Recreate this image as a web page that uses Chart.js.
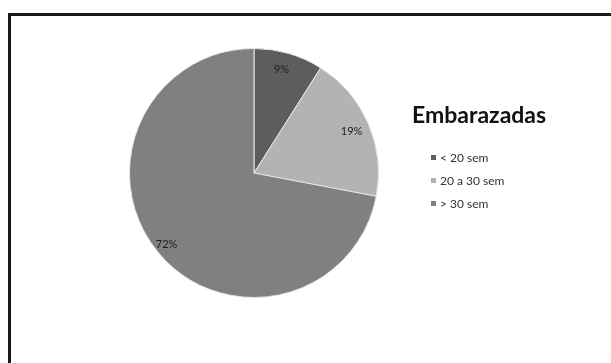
<!DOCTYPE html>
<html>
<head>
<meta charset="utf-8">
<script src="https://cdn.jsdelivr.net/npm/chart.js@4/dist/chart.umd.min.js"></script>
<style>
html,body{margin:0;padding:0;background:#fff;width:611px;height:363px;overflow:hidden;}
#frame{position:absolute;left:8px;top:13px;width:640px;height:400px;border:3px solid #1a1a1a;box-sizing:border-box;}
#wrap{position:absolute;left:0;top:0;width:611px;height:363px;}
</style>
</head>
<body>
<div id="frame"></div>
<div id="wrap"><canvas id="c" width="611" height="363"></canvas></div>
<script>
const chartTitle = "Embarazadas";
const categories = ["< 20 sem", "20 a 30 sem", "> 30 sem"];
const values = [9, 19, 72];
const colors = ["#5d5d5d", "#b3b3b3", "#808080"];

const labelPlugin = {
  id: "sliceLabels",
  afterDatasetsDraw(chart) {
    const ctx = chart.ctx;
    const meta = chart.getDatasetMeta(0);
    const total = values.reduce((a, b) => a + b, 0);
    ctx.save();
    ctx.font = "11px Lato, sans-serif";
    ctx.fillStyle = "#1e1e1e";
    ctx.textAlign = "center";
    ctx.textBaseline = "middle";
    meta.data.forEach((arc, i) => {
      const p = arc.getProps(["x", "y", "startAngle", "endAngle", "outerRadius"], true);
      const mid = (p.startAngle + p.endAngle) / 2;
      const r = p.outerRadius * 0.88;
      const pct = Math.round(values[i] / total * 100) + "%";
      ctx.fillText(pct, p.x + Math.cos(mid) * r - 3, p.y + Math.sin(mid) * r + 2);
    });
    ctx.restore();
  }
};

const legendPlugin = {
  id: "sideLegend",
  afterDraw(chart) {
    const ctx = chart.ctx;
    const area = chart.chartArea;
    const x0 = area.right + 33;
    ctx.save();
    ctx.fillStyle = "#111";
    ctx.font = "bold 23px Lato, sans-serif";
    ctx.textAlign = "left";
    ctx.textBaseline = "middle";
    ctx.fillText(chartTitle, x0, area.top + 68);
    ctx.font = "12px Lato, sans-serif";
    categories.forEach((c, i) => {
      const y = area.top + 110 + i * 23;
      ctx.fillStyle = colors[i];
      ctx.fillRect(x0 + 19, y - 3, 5, 5);
      ctx.fillStyle = "#333";
      ctx.fillText(c, x0 + 28, y);
    });
    ctx.restore();
  }
};

new Chart(document.getElementById("c"), {
  type: "pie",
  data: {
    labels: categories,
    datasets: [{
      data: values,
      backgroundColor: colors,
      borderColor: "#e6e6e6",
      borderWidth: 1
    }]
  },
  options: {
    responsive: false,
    animation: false,
    layout: { padding: { left: 129, right: 232, top: 48, bottom: 65 } },
    plugins: { legend: { display: false }, tooltip: { enabled: false } }
  },
  plugins: [labelPlugin, legendPlugin]
});
</script>
</body>
</html>
